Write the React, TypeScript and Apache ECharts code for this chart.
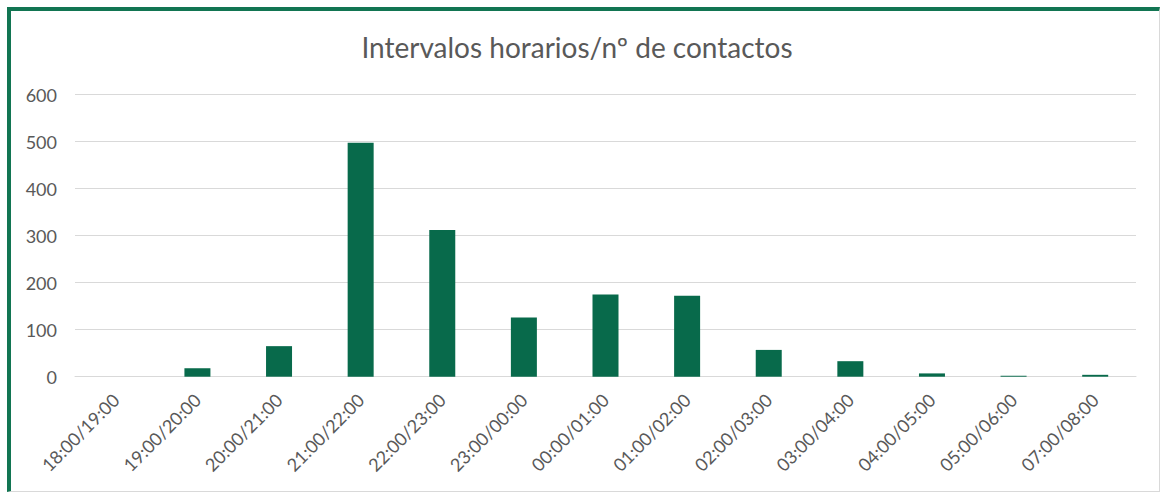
import React, { useEffect, useRef } from "react";
import * as echarts from "echarts";

const categories = [
  "18:00/19:00", "19:00/20:00", "20:00/21:00", "21:00/22:00", "22:00/23:00",
  "23:00/00:00", "00:00/01:00", "01:00/02:00", "02:00/03:00", "03:00/04:00",
  "04:00/05:00", "05:00/06:00", "07:00/08:00",
];
const contactos = [0, 18, 65, 498, 312, 126, 175, 172, 57, 33, 7, 2, 4];
const titleText = "Intervalos horarios/nº de contactos";

const FONT = "Lato, 'Open Sans', sans-serif";

export default function App() {
  const ref = useRef<HTMLDivElement>(null);
  useEffect(() => {
    if (!ref.current) return;
    const chart = echarts.init(ref.current, undefined, { renderer: "svg" });
    chart.setOption({
      animation: false,
      backgroundColor: "transparent",
      title: {
        text: titleText,
        left: 572,
        top: 28,
        textAlign: "center",
        textStyle: { fontFamily: FONT, fontSize: 28, fontWeight: "normal", color: "#595959" },
      },
      grid: { left: 75, right: 24, top: 94.7, bottom: 116.3, containLabel: false },
      xAxis: {
        type: "category",
        data: categories,
        axisLine: { show: true, lineStyle: { color: "#d9d9d9", width: 1 } },
        axisTick: { show: false },
        axisLabel: {
          rotate: 45,
          interval: 0,
          margin: 20,
          fontFamily: FONT,
          fontSize: 18,
          color: "#595959",
        },
      },
      yAxis: {
        type: "value",
        min: 0,
        max: 600,
        interval: 100,
        axisLine: { show: false },
        axisTick: { show: false },
        splitLine: { lineStyle: { color: "#d9d9d9", width: 1 } },
        axisLabel: { margin: 18, fontFamily: FONT, fontSize: 18, color: "#595959" },
      },
      series: [
        {
          type: "bar",
          data: contactos,
          barWidth: 26,
          itemStyle: { color: "#086a4b" },
        },
      ],
    });
    return () => chart.dispose();
  }, []);
  return (
    <div style={{ position: "absolute", left: 0, top: 0, width: 1160, height: 493, background: "#fff", fontFamily: FONT }}>
      <div
        style={{
          position: "absolute",
          left: 7,
          top: 7,
          width: 1153,
          height: 485,
          boxSizing: "border-box",
          borderLeft: "4px solid #127552",
          borderTop: "4px solid #127552",
          borderRight: "1px solid #d9d9d9",
          borderBottom: "1px solid #d9d9d9",
        }}
      />
      <div ref={ref} style={{ position: "absolute", left: 0, top: 0, width: 1160, height: 493 }} />
    </div>
  );
}
